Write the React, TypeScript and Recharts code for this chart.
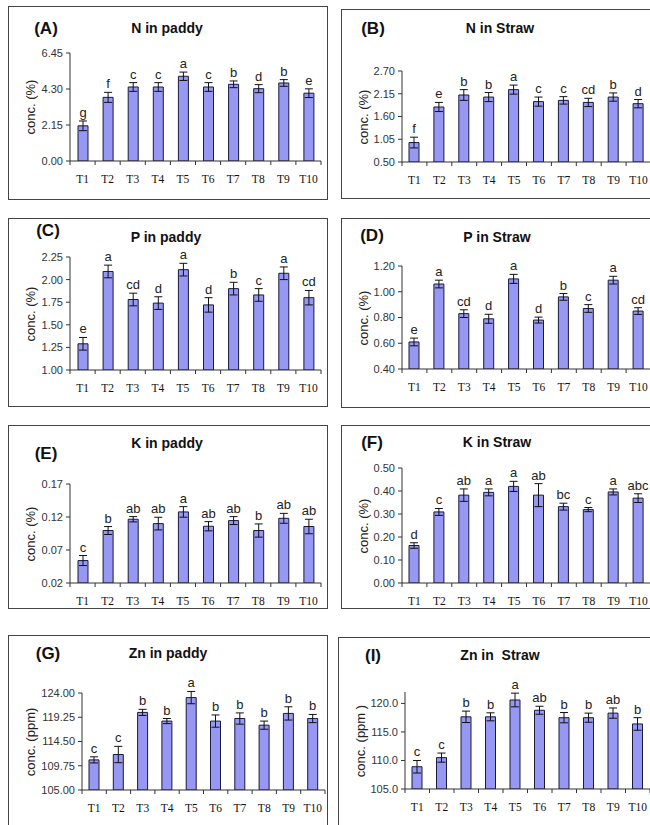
import React from 'react'
import { BarChart, Bar, XAxis, YAxis, ErrorBar, LabelList } from 'recharts'

const treatments = ['T1', 'T2', 'T3', 'T4', 'T5', 'T6', 'T7', 'T8', 'T9', 'T10']

// (A) N in paddy
const nPaddy = [2.1, 3.8, 4.42, 4.42, 5.06, 4.42, 4.58, 4.32, 4.66, 4.05]
const nPaddyErr = [0.29, 0.3, 0.26, 0.26, 0.25, 0.26, 0.2, 0.24, 0.2, 0.26]
const nPaddySig = ['g', 'f', 'c', 'c', 'a', 'c', 'b', 'd', 'b', 'e']

// (B) N in straw
const nStraw = [0.97, 1.83, 2.12, 2.07, 2.25, 1.96, 1.99, 1.94, 2.07, 1.91]
const nStrawErr = [0.13, 0.11, 0.13, 0.11, 0.11, 0.11, 0.09, 0.1, 0.1, 0.1]
const nStrawSig = ['f', 'e', 'b', 'b', 'a', 'c', 'c', 'cd', 'b', 'd']

// (C) P in paddy
const pPaddy = [1.29, 2.09, 1.78, 1.74, 2.11, 1.72, 1.9, 1.83, 2.07, 1.8]
const pPaddyErr = [0.07, 0.07, 0.07, 0.07, 0.07, 0.08, 0.07, 0.07, 0.07, 0.08]
const pPaddySig = ['e', 'a', 'cd', 'd', 'a', 'd', 'b', 'c', 'a', 'cd']

// (D) P in straw
const pStraw = [0.61, 1.06, 0.83, 0.79, 1.1, 0.78, 0.96, 0.87, 1.09, 0.85]
const pStrawErr = [0.03, 0.03, 0.03, 0.035, 0.035, 0.023, 0.026, 0.03, 0.03, 0.026]
const pStrawSig = ['e', 'a', 'cd', 'd', 'a', 'd', 'b', 'c', 'a', 'cd']

// (E) K in paddy
const kPaddy = [0.054, 0.0995, 0.1166, 0.11, 0.1277, 0.106, 0.1146, 0.0995, 0.118, 0.1056]
const kPaddyErr = [0.0076, 0.006, 0.004, 0.0096, 0.008, 0.007, 0.006, 0.01, 0.0075, 0.011]
const kPaddySig = ['c', 'b', 'ab', 'ab', 'a', 'ab', 'ab', 'b', 'ab', 'ab']

// (F) K in straw
const kStraw = [0.163, 0.309, 0.382, 0.394, 0.42, 0.382, 0.332, 0.319, 0.396, 0.369]
const kStrawErr = [0.012, 0.015, 0.027, 0.015, 0.022, 0.05, 0.015, 0.009, 0.013, 0.019]
const kStrawSig = ['d', 'c', 'ab', 'a', 'a', 'ab', 'bc', 'c', 'a', 'abc']

// (G) Zn in paddy
const znPaddy = [110.9, 111.95, 120.2, 118.5, 123.1, 118.5, 119.0, 117.7, 120.0, 119.0]
const znPaddyErr = [0.6, 1.6, 0.6, 0.5, 1.2, 1.2, 1.1, 0.8, 1.3, 0.8]
const znPaddySig = ['c', 'c', 'b', 'b', 'a', 'b', 'b', 'b', 'b', 'b']

// (I) Zn in straw
const znStraw = [108.9, 110.5, 117.65, 117.65, 120.6, 118.8, 117.5, 117.5, 118.3, 116.4]
const znStrawErr = [1.1, 0.8, 1.0, 0.7, 1.2, 0.7, 0.9, 0.8, 0.9, 1.1]
const znStrawSig = ['c', 'c', 'b', 'b', 'a', 'ab', 'b', 'b', 'ab', 'b']

const sans = '"Liberation Sans", Arial, sans-serif'
const serif = '"Liberation Serif", "Times New Roman", serif'
const barFill = '#9797f4'

const panels = [
  { tag: '(A)', title: 'N in paddy', yLabel: 'conc. (%)', values: nPaddy, errs: nPaddyErr, sigs: nPaddySig,
    domain: [0, 6.45], ticks: [0, 2.15, 4.3, 6.45], dec: 2,
    box: [8, 6, 328, 200], plot: [70, 53, 321, 161], tagAt: [46, 28], titleAt: [167, 28] },
  { tag: '(B)', title: 'N in Straw', yLabel: 'conc. (%)', values: nStraw, errs: nStrawErr, sigs: nStrawSig,
    domain: [0.5, 2.7], ticks: [0.5, 1.05, 1.6, 2.15, 2.7], dec: 2,
    box: [341, 9, 662, 199], plot: [402, 71, 651, 162], tagAt: [373, 28], titleAt: [500, 28] },
  { tag: '(C)', title: 'P in paddy', yLabel: 'conc. (%)', values: pPaddy, errs: pPaddyErr, sigs: pPaddySig,
    domain: [1, 2.25], ticks: [1, 1.25, 1.5, 1.75, 2, 2.25], dec: 2,
    box: [8, 218, 328, 407], plot: [70, 257, 321, 370], tagAt: [48, 230], titleAt: [166, 237] },
  { tag: '(D)', title: 'P in Straw', yLabel: 'conc. (%)', values: pStraw, errs: pStrawErr, sigs: pStrawSig,
    domain: [0.4, 1.2], ticks: [0.4, 0.6, 0.8, 1.0, 1.2], dec: 2,
    box: [341, 218, 662, 408], plot: [402, 266, 651, 369], tagAt: [372, 235], titleAt: [497, 237] },
  { tag: '(E)', title: 'K in paddy', yLabel: 'conc. (%)', values: kPaddy, errs: kPaddyErr, sigs: kPaddySig,
    domain: [0.02, 0.17], ticks: [0.02, 0.07, 0.12, 0.17], dec: 2,
    box: [8, 425, 328, 609], plot: [70, 484, 321, 583], tagAt: [46, 453], titleAt: [167, 443] },
  { tag: '(F)', title: 'K in Straw', yLabel: 'conc. (%)', values: kStraw, errs: kStrawErr, sigs: kStrawSig,
    domain: [0, 0.5], ticks: [0, 0.1, 0.2, 0.3, 0.4, 0.5], dec: 2,
    box: [341, 425, 662, 609], plot: [402, 468, 651, 583], tagAt: [372, 442], titleAt: [497, 442] },
  { tag: '(G)', title: 'Zn in paddy', yLabel: 'conc. (ppm)', values: znPaddy, errs: znPaddyErr, sigs: znPaddySig,
    domain: [105, 124], ticks: [105, 109.75, 114.5, 119.25, 124], dec: 2,
    box: [8, 635, 328, 840], plot: [82, 693, 325, 790], tagAt: [48, 653], titleAt: [168, 653] },
  { tag: '(I)', title: 'Zn in  Straw', yLabel: 'conc. (ppm )', values: znStraw, errs: znStrawErr, sigs: znStrawSig,
    domain: [105, 122], ticks: [105, 110, 115, 120], dec: 1,
    box: [338, 637, 662, 840], plot: [405, 692, 650, 789], tagAt: [373, 655], titleAt: [500, 655] },
]

function Panel({ p }: { p: any }) {
  const [bl, bt, br, bb] = p.box
  const [pl, pt, pr, pb] = p.plot
  const data = treatments.map((t, i) => ({ t, v: p.values[i], err: p.errs[i], sig: p.sigs[i] }))
  const band = (pr - pl) / treatments.length
  const pxPerUnit = (pb - pt) / (p.domain[1] - p.domain[0])

  const xTick = (props: any) => {
    const { x, y, payload } = props
    const last = payload.value === treatments[treatments.length - 1]
    return (
      <g>
        <line x1={x - band / 2} x2={x - band / 2} y1={y} y2={y + 4} stroke="#333" />
        {last && <line x1={x + band / 2} x2={x + band / 2} y1={y} y2={y + 4} stroke="#333" />}
        <text x={x} y={y + 22} textAnchor="middle" fontFamily={serif} fontSize={11.5} fill="#111">
          {payload.value}
        </text>
      </g>
    )
  }

  const sigLabel = (props: any) => {
    const vb = props.viewBox ?? props
    const i = props.index
    const err = data[i] ? data[i].err : 0
    const cx = vb.x + vb.width / 2
    const top = vb.y - err * pxPerUnit
    return (
      <text x={cx} y={top - 4} textAnchor="middle" fontFamily={sans} fontSize={13} fill="#222">
        {props.value}
      </text>
    )
  }

  const w = br - bl
  const h = bb - bt

  return (
    <>
      <div
        style={{
          position: 'absolute', left: bl, top: bt, width: w, height: h,
          border: '1px solid #444', boxSizing: 'border-box',
        }}
      />
      <div style={{ position: 'absolute', left: bl, top: bt, width: w, height: h }}>
        <BarChart
          width={w}
          height={h}
          data={data}
          margin={{ top: pt - bt, right: br - pr, bottom: 0, left: 0 }}
        >
          <XAxis
            dataKey="t"
            height={bb - pb}
            interval={0}
            tickLine={false}
            tickSize={0}
            tickMargin={0}
            axisLine={{ stroke: '#333' }}
            tick={xTick}
          />
          <YAxis
            type="number"
            width={pl - bl}
            domain={p.domain}
            ticks={p.ticks}
            interval={0}
            allowDataOverflow
            tickFormatter={(v: number) => v.toFixed(p.dec)}
            tickSize={4}
            tickMargin={3}
            axisLine={{ stroke: '#333' }}
            tickLine={{ stroke: '#333' }}
            tick={{ fill: '#333', fontSize: 11, fontFamily: sans }}
          />
          <Bar dataKey="v" fill={barFill} stroke="#1a1a3a" strokeWidth={1} barSize={10} isAnimationActive={false}>
            <ErrorBar dataKey="err" width={4} stroke="#111" strokeWidth={1} direction="y" />
            <LabelList dataKey="sig" content={sigLabel} />
          </Bar>
        </BarChart>
      </div>
      <div
        style={{
          position: 'absolute', left: p.tagAt[0], top: p.tagAt[1], transform: 'translate(-50%, -50%)',
          fontFamily: sans, fontWeight: 700, fontSize: 17, lineHeight: 1, whiteSpace: 'nowrap', color: '#111',
        }}
      >
        {p.tag}
      </div>
      <div
        style={{
          position: 'absolute', left: p.titleAt[0], top: p.titleAt[1], transform: 'translate(-50%, -50%)',
          fontFamily: sans, fontWeight: 700, fontSize: 14, lineHeight: 1, whiteSpace: 'pre', color: '#111',
        }}
      >
        {p.title}
      </div>
      <div
        style={{
          position: 'absolute', left: bl + 22, top: (pt + pb) / 2,
          transform: 'translate(-50%, -50%) rotate(-90deg)',
          fontFamily: sans, fontSize: 13, lineHeight: 1, whiteSpace: 'pre', color: '#222',
        }}
      >
        {p.yLabel}
      </div>
    </>
  )
}

export default function App() {
  return (
    <div
      style={{
        position: 'fixed', left: 0, top: 0, width: 650, height: 825, overflow: 'hidden', background: '#fff',
      }}
    >
      {panels.map((p) => (
        <Panel key={p.tag} p={p} />
      ))}
    </div>
  )
}
